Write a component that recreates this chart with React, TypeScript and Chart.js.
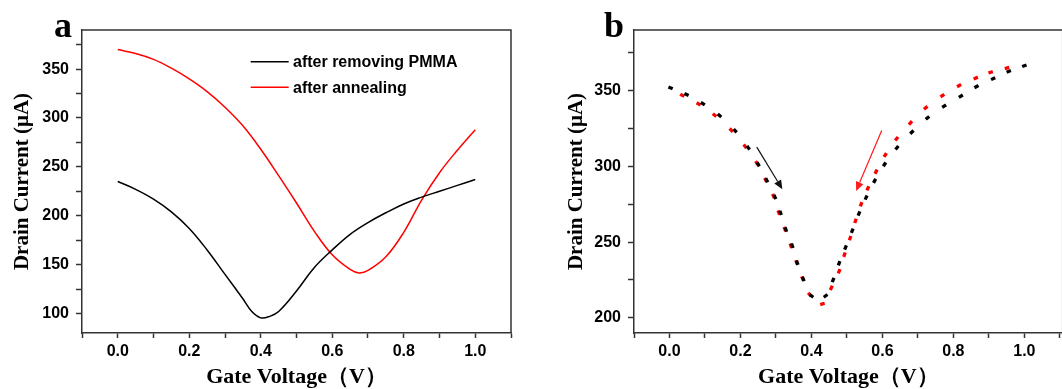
import React, { useEffect, useRef } from "react";
import { Chart, registerables } from "chart.js";
Chart.register(...registerables);

// ---------- Panel a data ----------
const aBlackV = [0, 0.05, 0.1, 0.15, 0.2, 0.25, 0.3, 0.35, 0.375, 0.4, 0.425, 0.45, 0.5, 0.55, 0.6, 0.65, 0.7, 0.75, 0.8, 0.85, 0.9, 0.95, 1.0];
const aBlackI = [235, 227, 217, 204, 187, 165, 140, 115, 102, 95.5, 97, 102, 123, 147, 165, 181, 193, 203, 212, 219, 225, 231, 237];
const aRedV = [0, 0.05, 0.1, 0.15, 0.2, 0.25, 0.3, 0.35, 0.4, 0.45, 0.5, 0.55, 0.6, 0.65, 0.675, 0.7, 0.75, 0.8, 0.85, 0.9, 0.95, 1.0];
const aRedI = [370, 366, 360, 351, 340, 327, 311, 292, 268, 241, 213, 184, 160, 145, 141.5, 144, 158, 183, 216, 244, 267, 288];
const aLegend = ["after removing PMMA", "after annealing"];
const aYTicks = [100, 125, 150, 175, 200, 225, 250, 275, 300, 325, 350, 375];

// ---------- Panel b data (dash centres) ----------
const bBlackV = [0.003, 0.048, 0.094, 0.141, 0.185, 0.222, 0.25, 0.274, 0.297, 0.313, 0.328, 0.346, 0.36, 0.377, 0.4, 0.44, 0.461, 0.478, 0.496, 0.515, 0.534, 0.554, 0.578, 0.606, 0.641, 0.683, 0.727, 0.774, 0.821, 0.865, 0.912, 0.956, 1.0];
const bBlackI = [351.8, 347.4, 341.4, 333.6, 323.5, 312.3, 301.3, 290.8, 279.8, 269.3, 258.3, 247.6, 236.4, 225.7, 214.5, 214.5, 225, 236, 246.5, 257.5, 268.9, 279.4, 290.4, 301.3, 312.3, 322.6, 332, 339.7, 346.3, 352.6, 357.9, 362.7, 366.4];
const bRedV = [0.036, 0.082, 0.127, 0.174, 0.213, 0.246, 0.271, 0.293, 0.308, 0.325, 0.342, 0.358, 0.375, 0.395, 0.431, 0.456, 0.478, 0.493, 0.509, 0.524, 0.54, 0.559, 0.582, 0.608, 0.64, 0.679, 0.722, 0.769, 0.816, 0.863, 0.905, 0.951];
const bRedI = [346.9, 341.2, 333.8, 323.9, 313.2, 302.2, 291, 280.5, 269.5, 258.6, 247.6, 236.6, 226, 215.4, 209.2, 219.8, 230.8, 241.7, 252.6, 264, 275, 285.5, 296.5, 307.5, 318.2, 328.7, 338.6, 346.7, 353.3, 358.3, 362.1, 364.9];
const bArrowBlack = [[0.246, 312.7], [0.318, 284.9]];
const bArrowRed = [[0.598, 323.7], [0.526, 283.8]];
const bYTicks = [200, 225, 250, 275, 300, 325, 350, 375];

const xTicks = [-0.1, 0, 0.1, 0.2, 0.3, 0.4, 0.5, 0.6, 0.7, 0.8, 0.9, 1.0, 1.1];
const xLabels = [0, 0.2, 0.4, 0.6, 0.8, 1.0];

const AXIS = "#333333";
const SANS = "'Liberation Sans', Arial, sans-serif";
const SERIF = "'Liberation Serif', 'Times New Roman', serif";

const zip = (xs: number[], ys: number[]) => xs.map((x, i) => ({ x, y: ys[i] }));

function makeScales(opts: {
  xMin: number; xMax: number; yMin: number; yMax: number; yTicks: number[];
  yWidth: number; yTitlePad: number;
}) {
  return {
    x: {
      type: "linear",
      min: opts.xMin,
      max: opts.xMax,
      afterBuildTicks: (s: any) => { s.ticks = xTicks.map((v) => ({ value: v })); },
      afterFit: (s: any) => { s.height = 56; },
      ticks: {
        autoSkip: false,
        maxRotation: 0,
        padding: 4,
        color: "#000",
        font: { family: SANS, size: 16, weight: "bold" },
        callback: (v: number) => {
          const m = xLabels.find((l) => Math.abs(l - v) < 1e-6);
          return m === undefined ? "" : m.toFixed(1);
        },
      },
      grid: { drawOnChartArea: false, drawTicks: true, tickLength: 5, tickColor: AXIS, tickWidth: 1.5 },
      border: { display: true, color: AXIS, width: 1.5 },
      title: {
        display: true,
        text: "Gate Voltage（V）",
        color: "#000",
        font: { family: SERIF, size: 22, weight: "bold" },
        padding: { top: 0, bottom: -2 },
      },
    },
    y: {
      type: "linear",
      min: opts.yMin,
      max: opts.yMax,
      afterBuildTicks: (s: any) => { s.ticks = opts.yTicks.map((v) => ({ value: v })); },
      afterFit: (s: any) => { s.width = opts.yWidth; },
      ticks: {
        autoSkip: false,
        padding: 7,
        color: "#000",
        font: { family: SANS, size: 16, weight: "bold" },
        callback: (v: number) => (v % 50 === 0 ? String(v) : ""),
      },
      grid: { drawOnChartArea: false, drawTicks: true, tickLength: 6, tickColor: AXIS, tickWidth: 1.5 },
      border: { display: true, color: AXIS, width: 1.5 },
      title: {
        display: true,
        text: "Drain Current (μA)",
        color: "#000",
        font: { family: SERIF, size: 21, weight: "bold" },
        padding: { top: opts.yTitlePad, bottom: 0 },
      },
    },
  };
}

const frame = (label: string, lx: number) => ({
  id: "frame" + label,
  afterDraw(chart: any) {
    const { ctx, chartArea: a } = chart;
    ctx.save();
    ctx.strokeStyle = AXIS;
    ctx.lineWidth = 1.5;
    ctx.beginPath();
    ctx.moveTo(a.left, a.top);
    ctx.lineTo(a.right, a.top);
    ctx.lineTo(a.right, a.bottom);
    ctx.stroke();
    ctx.fillStyle = "#000";
    ctx.font = `bold 36px ${SERIF}`;
    ctx.textAlign = "center";
    ctx.textBaseline = "alphabetic";
    ctx.fillText(label, lx, 37);
    ctx.restore();
  },
});

const legendPlugin = {
  id: "legendA",
  afterDraw(chart: any) {
    const { ctx, chartArea: a } = chart;
    const colors = ["#000000", "#ff0000"];
    ctx.save();
    ctx.font = `bold 16px ${SANS}`;
    ctx.textBaseline = "middle";
    ctx.textAlign = "left";
    aLegend.forEach((t, i) => {
      const y = a.top + 31.7 + i * 25.6;
      ctx.strokeStyle = colors[i];
      ctx.lineWidth = 1.5;
      ctx.beginPath();
      ctx.moveTo(a.left + 168.7, y);
      ctx.lineTo(a.left + 206.7, y);
      ctx.stroke();
      ctx.fillStyle = "#000";
      ctx.fillText(t, a.left + 211, y + 1);
    });
    ctx.restore();
  },
};

const arrowPlugin = {
  id: "arrowsB",
  afterDatasetsDraw(chart: any) {
    const { ctx } = chart;
    const xs = chart.scales.x, ys = chart.scales.y;
    const draw = (pts: number[][], color: string) => {
      const x0 = xs.getPixelForValue(pts[0][0]), y0 = ys.getPixelForValue(pts[0][1]);
      const x1 = xs.getPixelForValue(pts[1][0]), y1 = ys.getPixelForValue(pts[1][1]);
      const ang = Math.atan2(y1 - y0, x1 - x0);
      const hl = 9, hw = 4;
      const bx = x1 - Math.cos(ang) * hl, by = y1 - Math.sin(ang) * hl;
      ctx.save();
      ctx.strokeStyle = color;
      ctx.fillStyle = color;
      ctx.lineWidth = 1.2;
      ctx.beginPath();
      ctx.moveTo(x0, y0);
      ctx.lineTo(bx, by);
      ctx.stroke();
      ctx.beginPath();
      ctx.moveTo(x1, y1);
      ctx.lineTo(bx + Math.sin(ang) * hw, by - Math.cos(ang) * hw);
      ctx.lineTo(bx - Math.sin(ang) * hw, by + Math.cos(ang) * hw);
      ctx.closePath();
      ctx.fill();
      ctx.restore();
    };
    draw(bArrowBlack, "#111111");
    draw(bArrowRed, "#ff1a1a");
  },
};

const dashRotation = (c: any) => {
  const ch = c.chart;
  const xs = ch.scales && ch.scales.x, ys = ch.scales && ch.scales.y;
  const d = c.dataset && c.dataset.data;
  if (!xs || !ys || !d || c.dataIndex === undefined) return 0;
  const i = c.dataIndex;
  const p0 = d[Math.max(0, i - 1)], p1 = d[Math.min(d.length - 1, i + 1)];
  const dx = xs.getPixelForValue(p1.x) - xs.getPixelForValue(p0.x);
  const dy = ys.getPixelForValue(p1.y) - ys.getPixelForValue(p0.y);
  return (Math.atan2(dy, dx) * 180) / Math.PI;
};

export default function App() {
  const refA = useRef<HTMLCanvasElement>(null);
  const refB = useRef<HTMLCanvasElement>(null);

  useEffect(() => {
    const chartA = new Chart(refA.current as HTMLCanvasElement, {
      type: "line",
      data: {
        datasets: [
          {
            label: aLegend[0],
            data: zip(aBlackV, aBlackI),
            borderColor: "#000000",
            borderWidth: 1.5,
            pointRadius: 0,
            tension: 0.4,
          },
          {
            label: aLegend[1],
            data: zip(aRedV, aRedI),
            borderColor: "#ff0000",
            borderWidth: 1.5,
            pointRadius: 0,
            tension: 0.4,
          },
        ],
      },
      options: {
        responsive: false,
        animation: false,
        events: [],
        layout: { padding: { top: 30, right: 19, left: 0, bottom: 0 } },
        plugins: { legend: { display: false }, tooltip: { enabled: false } },
        scales: makeScales({ xMin: -0.1, xMax: 1.1, yMin: 80, yMax: 390, yTicks: aYTicks, yWidth: 82, yTitlePad: 10 }) as any,
      },
      plugins: [frame("a", 63), legendPlugin],
    } as any);

    const chartB = new Chart(refB.current as HTMLCanvasElement, {
      type: "scatter",
      data: {
        datasets: [
          {
            label: "black",
            data: zip(bBlackV, bBlackI),
            showLine: false,
            pointStyle: "line",
            pointRadius: 2.3,
            pointBorderWidth: 3.3,
            pointBorderColor: "#000000",
            pointBackgroundColor: "#000000",
            rotation: dashRotation,
          },
          {
            label: "red",
            data: zip(bRedV, bRedI),
            showLine: false,
            pointStyle: "line",
            pointRadius: 2.3,
            pointBorderWidth: 3.3,
            pointBorderColor: "#ff0000",
            pointBackgroundColor: "#ff0000",
            rotation: dashRotation,
          },
        ],
      },
      options: {
        responsive: false,
        animation: false,
        events: [],
        layout: { padding: { top: 30, right: 5, left: 0, bottom: 0 } },
        plugins: { legend: { display: false }, tooltip: { enabled: false } },
        scales: makeScales({ xMin: -0.1, xMax: 1.108, yMin: 190, yMax: 390, yTicks: bYTicks, yWidth: 104, yTitlePad: 34 }) as any,
      },
      plugins: [frame("b", 84), arrowPlugin],
    } as any);

    return () => {
      chartA.destroy();
      chartB.destroy();
    };
  }, []);

  return (
    <div style={{ position: "fixed", left: 0, top: 0, width: 1062, height: 389, overflow: "hidden", background: "#fff" }}>
      <canvas ref={refA} width={530} height={389} style={{ position: "absolute", left: 0, top: 0, width: 530, height: 389 }} />
      <canvas ref={refB} width={540} height={389} style={{ position: "absolute", left: 530, top: 0, width: 540, height: 389 }} />
    </div>
  );
}
